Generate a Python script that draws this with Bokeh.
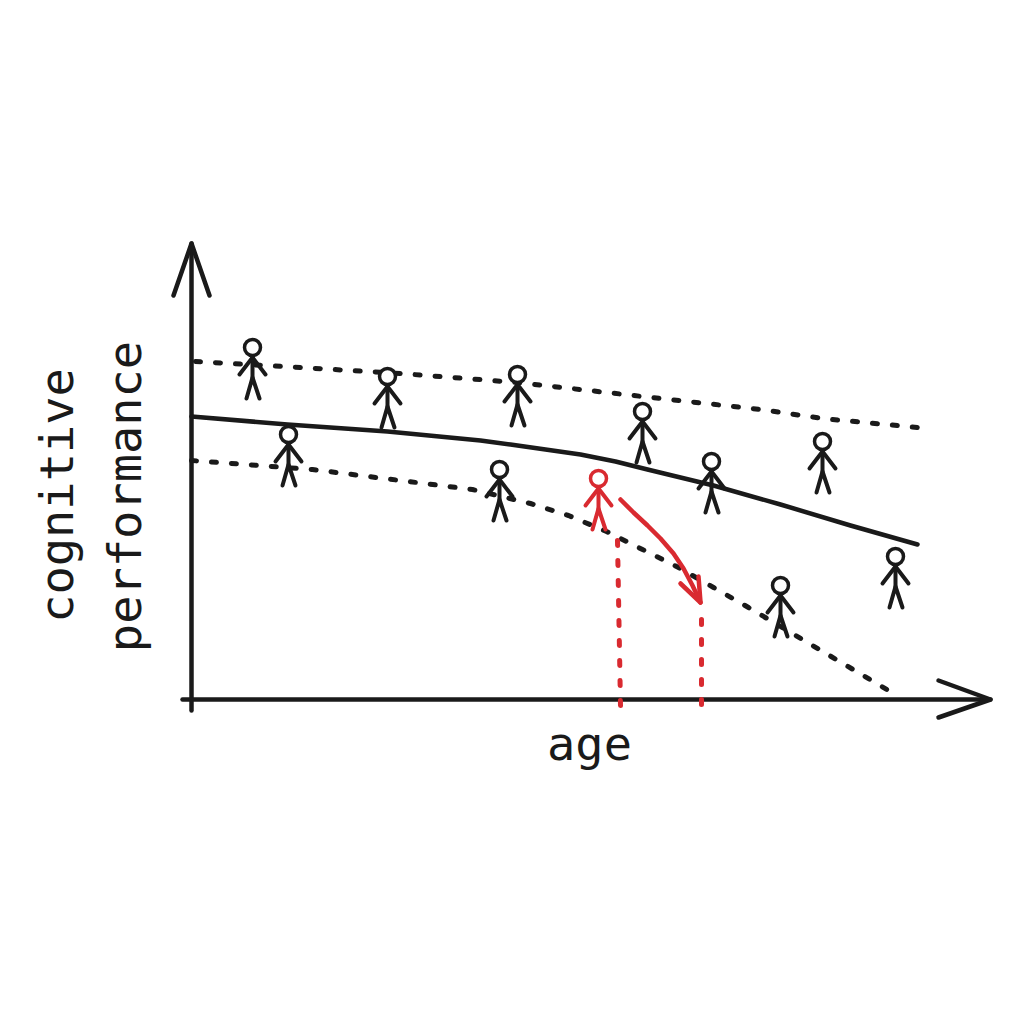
from bokeh.plotting import figure
from bokeh.embed import file_html
from bokeh.resources import INLINE
from bokeh.core.properties import value

# Data units: px-like units from the chart origin (age right, performance up)
OX, OY = 191, 699
def X(v): return [a - OX for a in v]
def Y(v): return [OY - a for a in v]

upper_age = [195, 300, 400, 517, 642, 760, 822, 928]
upper_perf = [361, 367, 373, 382, 396, 409, 418, 428]
mean_age = [191, 287, 387, 480, 510, 545, 580, 615, 647, 713, 780, 850, 917]
mean_perf = [416, 424, 431, 440, 444, 449, 454, 461, 469, 485, 504, 525, 544]
lower_age = [191, 312, 472, 530, 568, 606, 642, 678, 713, 748, 888]
lower_perf = [460, 469, 489, 503, 515, 531, 549, 567, 587, 607, 690]

people_age = [252, 387, 517, 642, 711, 822, 288, 499, 780, 895]
people_perf = [347, 376, 374, 411, 461, 441, 434, 469, 585, 556]
red_person_age = [598]
red_person_perf = [478]

arrow_age = [620, 633, 647, 660, 673, 683, 692, 700]
arrow_perf = [499, 512, 525, 538, 553, 568, 585, 602]
drop_left_age = [617, 620]
drop_left_perf = [540, 705]
drop_right_age = [701, 701]
drop_right_perf = [619, 705]

BLACK = "#1a1a1a"
RED = "#d92a30"
FONT = "DejaVu Sans Mono"

p = figure(width=1008, height=1008, x_range=(0 - OX, 1008 - OX), y_range=(OY - 1008, OY - 0),
           output_backend="svg", toolbar_location=None, min_border=0)
p.axis.visible = False
p.grid.visible = False
p.outline_line_color = None
p.background_fill_color = "white"
p.border_fill_color = "white"

def curve(xs, ys, color, width, dash="solid"):
    p.line(X(xs), Y(ys), line_color=color, line_width=width, line_cap="round",
           line_join="round", line_dash=dash)

DOTS = "5 15"
# Axes with arrow heads
curve([191, 191], [243, 710], BLACK, 4.5)
curve([173, 191, 209], [295, 243, 295], BLACK, 4.5)
curve([182, 990], [699, 699], BLACK, 4.5)
curve([938, 990, 938], [680, 699, 717], BLACK, 4.5)

# Trend lines
curve(upper_age, upper_perf, BLACK, 5, DOTS)
curve(mean_age, mean_perf, BLACK, 4.5)
curve(lower_age, lower_perf, BLACK, 5, DOTS)

# Red annotation
curve(drop_left_age, drop_left_perf, RED, 5, DOTS)
curve(drop_right_age, drop_right_perf, RED, 5, DOTS)
curve(arrow_age, arrow_perf, RED, 4.5)
curve([680, 700, 698], [583, 602, 576], RED, 4.5)

def people(ages, perfs, color):
    for a, b in zip(ages, perfs):
        curve([a, a], [b + 8, b + 32], color, 4)                 # trunk
        curve([a - 13, a, a + 13], [b + 27, b + 10, b + 27], color, 4)  # arms
        curve([a - 6, a, a + 7], [b + 51, b + 30, b + 51], color, 4)    # legs
    p.scatter(X(ages), Y(perfs), size=16, marker="circle", fill_color="white",
              line_color=color, line_width=3.5)

people(people_age, people_perf, BLACK)
people(red_person_age, red_person_perf, RED)

# Labels
TXT = dict(text_font=value(FONT), text_font_size="47px", text_color=BLACK,
           text_align="center", text_baseline="alphabetic")
p.text(X([56]), Y([495]), text=["cognitive"], angle=90, angle_units="deg", **TXT)
p.text(X([124]), Y([496]), text=["performance"], angle=90, angle_units="deg", **TXT)
p.text(X([589]), Y([743]), text=["age"], **TXT)

open("out.html", "w").write(file_html(p, INLINE))
